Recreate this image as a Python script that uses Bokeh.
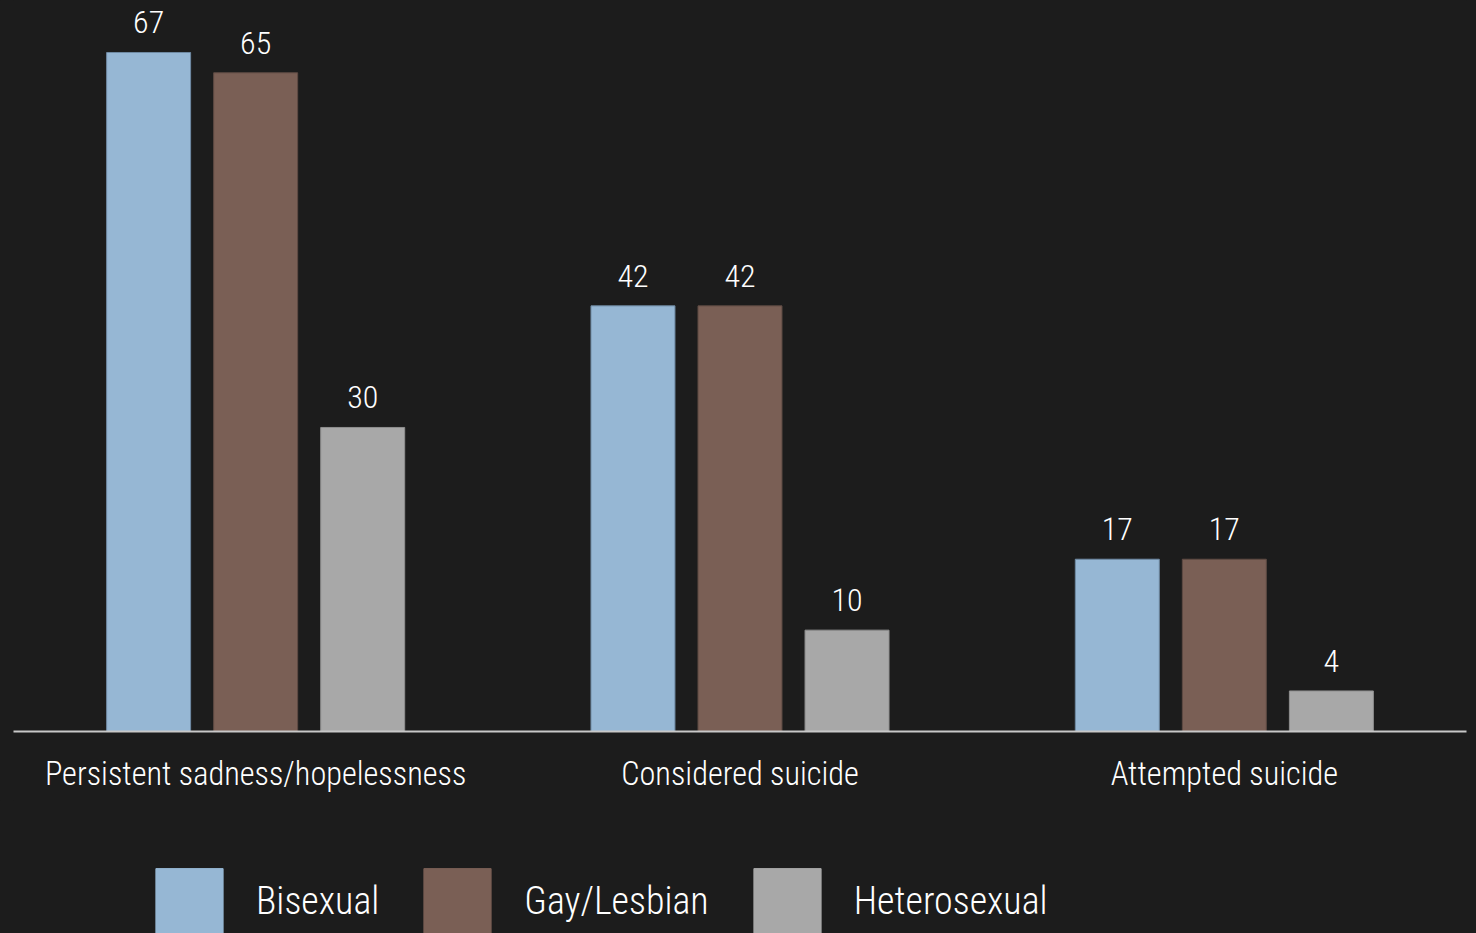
from bokeh.plotting import figure
from bokeh.models import FactorRange, Range1d, ColumnDataSource, Legend, LegendItem, LabelSet, InlineStyleSheet
from bokeh.layouts import column
from bokeh.transform import dodge
from bokeh.core.properties import value
from bokeh.embed import file_html
from bokeh.resources import INLINE

categories = ["Persistent sadness/hopelessness", "Considered suicide", "Attempted suicide"]
series_names = ["Bisexual", "Gay/Lesbian", "Heterosexual"]
bisexual = [67, 42, 17]
gay_lesbian = [65, 42, 17]
heterosexual = [30, 10, 4]

colors = ["#96b7d4", "#7a5f55", "#a8a8a8"]
outlines = ["#6f8aa3", "#5e4a43", "#8f8f8f"]
BG = "#1c1c1c"
FONT = ("'Roboto Condensed Light', 'Roboto Condensed', 'Liberation Sans Narrow', "
        "'Arial Narrow', 'DejaVu Sans Condensed', sans-serif")

css = InlineStyleSheet(css=":host { background-color: #1c1c1c; border: none; outline: none; } "
                           "svg, canvas, div { border: none !important; outline: none !important; }")

src = ColumnDataSource(dict(cat=categories, bi=bisexual, gl=gay_lesbian, he=heterosexual,
                            bi_t=[str(v) for v in bisexual],
                            gl_t=[str(v) for v in gay_lesbian],
                            he_t=[str(v) for v in heterosexual]))

p = figure(width=1476, height=800, output_backend="svg", toolbar_location=None,
           x_range=FactorRange(factors=categories, range_padding=0),
           y_range=Range1d(0, 72.13),
           min_border_left=13, min_border_right=10, min_border_top=0, min_border_bottom=69,
           background_fill_color=BG, border_fill_color=BG, outline_line_color=None,
           styles={"background-color": BG}, stylesheets=[css])

offsets = [-0.221, 0.0, 0.221]
cols = ["bi", "gl", "he"]
for off, col, c, oc in zip(offsets, cols, colors, outlines):
    p.vbar(x=dodge("cat", off, range=p.x_range), top=col, width=0.1734, source=src,
           fill_color=c, line_color=oc, line_width=1)
    lbl = LabelSet(x=dodge("cat", off, range=p.x_range), y=col, text=col + "_t", source=src,
                   text_align="center", text_baseline="alphabetic", y_offset=19,
                   text_color="#ffffff", text_font_size="32px", text_font=value(FONT))
    p.add_layout(lbl)

p.xgrid.grid_line_color = None
p.ygrid.grid_line_color = None
p.yaxis.visible = False
ax = p.xaxis[0]
ax.axis_line_color = "#c8c8c8"
ax.axis_line_width = 2
ax.major_tick_line_color = None
ax.minor_tick_line_color = None
ax.major_tick_out = 0
ax.major_tick_in = 0
ax.major_label_standoff = 23
ax.major_label_text_color = "#ffffff"
ax.major_label_text_font_size = "32.3px"
ax.major_label_text_font = FONT

# legend strip below the chart
lg = figure(width=1476, height=133, output_backend="svg", toolbar_location=None,
            x_range=FactorRange(factors=categories, range_padding=0),
            y_range=Range1d(1000, 1001),
            min_border_left=0, min_border_right=0, min_border_top=0, min_border_bottom=0,
            background_fill_color=BG, border_fill_color=BG, outline_line_color=None,
            styles={"background-color": BG}, stylesheets=[css])
lg.axis.visible = False
lg.grid.grid_line_color = None
renderers = []
for off, col, c in zip(offsets, cols, colors):
    r = lg.vbar(x=dodge("cat", off, range=lg.x_range), top=col, width=0.1734, source=src,
                fill_color=c, line_color=c, line_width=1)
    renderers.append(r)

legend = Legend(items=[LegendItem(label=n, renderers=[r]) for n, r in zip(series_names, renderers)],
                orientation="horizontal", location=(134, -8),
                glyph_width=84, glyph_height=81, label_standoff=25, spacing=36,
                padding=0, margin=0, background_fill_alpha=0, border_line_alpha=0,
                label_text_color="#ffffff", label_text_font_size="38px", label_text_font=FONT,
                label_text_baseline="middle")
lg.add_layout(legend, "center")

layout = column(p, lg, spacing=0, styles={"background-color": BG}, stylesheets=[css])
html = file_html(layout, INLINE)
html = html.replace("<body>", '<body style="margin:0;background:#1c1c1c;">', 1)
open("out.html", "w").write(html)
